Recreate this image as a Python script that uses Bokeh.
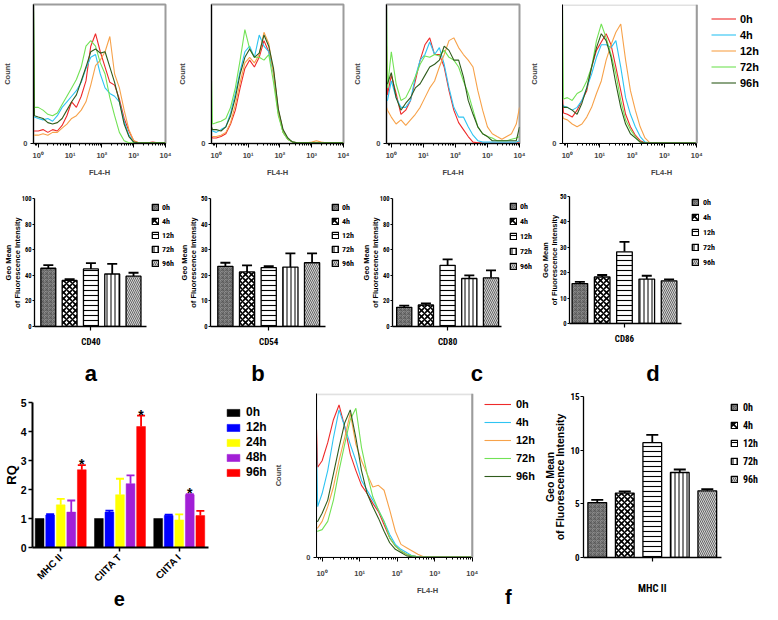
import math
from bokeh.plotting import figure
from bokeh.models import (Legend, LegendItem, FixedTicker, Whisker, TeeHead, LinearAxis, BoxAnnotation, Span,
                          ColumnDataSource, Range1d)
from bokeh.layouts import row, column
from bokeh.transform import dodge
from bokeh.core.properties import value
from bokeh.embed import file_html
from bokeh.resources import INLINE

# ------------------------------------------------------------------ data
# flow-cytometry histograms: FL4-H channel positions and event counts (% of max)
FL4H = [0.71, 0.76, 1.0, 1.41, 2.0, 2.82, 3.98, 5.62, 7.94, 11.2, 15.8, 22.4, 31.6, 44.7,
        63.1, 89.1, 126, 178, 251, 355, 501, 708, 1000, 1413, 1995, 2818, 3981, 5623, 7943, 10000]
HIST_TIMES = ["0h", "4h", "12h", "72h", "96h"]

CD40_0H = [9, 9, 9, 10, 8, 10, 9, 13, 20, 30, 26, 34, 45, 70, 79, 66, 55, 44, 42, 32, 18, 9, 2, 0.5, 0.5, 0.5, 1, 0.5, 0.5, 0.5]
CD40_4H = [19, 19, 18, 17, 18, 16, 20, 26, 30, 34, 38, 44, 54, 62, 64, 50, 40, 36, 34, 30, 16, 6, 1, 0.5, 0.5, 0.5, 0.5, 0.5, 0.5, 0.5]
CD40_12H = [6, 6, 6, 7, 6, 8, 8, 11, 14, 18, 20, 24, 30, 42, 56, 60, 66, 77, 50, 40, 24, 10, 2, 0.5, 0.5, 0.5, 0.5, 0.5, 0.5, 0.5]
CD40_72H = [95, 26, 26, 24, 21, 20, 22, 28, 34, 40, 46, 55, 70, 74, 70, 58, 50, 33, 20, 8, 2, 0.5, 0.5, 0.5, 0.5, 0.5, 0.5, 0.5, 0.5, 0.5]
CD40_96H = [100, 20, 19, 18, 15, 14, 15, 18, 24, 30, 35, 45, 55, 66, 68, 65, 66, 55, 44, 30, 14, 5, 1, 0.5, 0.5, 0.5, 0.5, 0.5, 0.5, 0.5]

CD54_0H = [5, 4, 4, 5, 7, 14, 24, 40, 54, 60, 55, 62, 74, 66, 52, 24, 9, 3, 1, 0.5, 0.5, 0.5, 0.5, 0.5, 0.5, 0.5, 0.5, 0.5, 0.5, 0.5]
CD54_4H = [10, 9, 8, 10, 12, 22, 36, 52, 66, 70, 62, 78, 70, 66, 50, 22, 8, 3, 1, 0.5, 0.5, 0.5, 0.5, 0.5, 0.5, 0.5, 0.5, 0.5, 0.5, 0.5]
CD54_12H = [5, 5, 5, 6, 8, 15, 28, 44, 58, 62, 58, 64, 80, 72, 50, 22, 8, 3, 1, 0.5, 0.5, 0.5, 1, 2, 1, 0.5, 0.5, 0.5, 0.5, 0.5]
CD54_72H = [45, 14, 15, 16, 18, 26, 40, 60, 82, 68, 62, 62, 60, 64, 44, 20, 8, 3, 1, 0.5, 0.5, 0.5, 0.5, 0.5, 0.5, 0.5, 0.5, 0.5, 0.5, 0.5]
CD54_96H = [12, 10, 10, 9, 12, 20, 33, 50, 62, 68, 62, 65, 78, 70, 54, 25, 10, 4, 1, 0.5, 0.5, 0.5, 0.5, 0.5, 0.5, 0.5, 0.5, 0.5, 0.5, 0.5]

CD80_0H = [70, 35, 49, 36, 21, 24, 31, 45, 60, 71, 76, 64, 64, 55, 38, 24, 15, 10, 5, 1, 0.5, 0.5, 0.5, 0.5, 0.5, 0.5, 0.5, 0.5, 0.5, 0.5]
CD80_4H = [31, 31, 45, 33, 26, 26, 31, 48, 60, 64, 73, 64, 69, 57, 40, 26, 19, 19, 12, 6, 2, 1, 1, 1, 1, 1, 1, 1, 1, 2]
CD80_12H = [26, 24, 19, 14, 17, 13, 17, 21, 26, 33, 40, 45, 55, 64, 74, 76, 69, 64, 60, 55, 38, 24, 12, 7, 5, 3, 5, 7, 14, 26]
CD80_72H = [98, 40, 66, 43, 31, 33, 40, 48, 57, 63, 62, 64, 63, 67, 62, 60, 55, 45, 36, 24, 12, 7, 5, 4, 2, 2, 2, 3, 4, 5]
CD80_96H = [43, 43, 51, 33, 24, 29, 33, 40, 43, 49, 55, 57, 60, 70, 67, 60, 60, 48, 31, 21, 12, 7, 5, 2, 2, 2, 2, 2, 2, 12]

CD86_0H = [36, 22, 21, 19, 24, 31, 38, 55, 67, 73, 79, 71, 55, 38, 21, 12, 6, 2, 0.5, 0.5, 0.5, 0.5, 0.5, 0.5, 0.5, 0.5, 0.5, 0.5, 0.5, 0.5]
CD86_4H = [28, 27, 26, 24, 26, 31, 40, 50, 62, 71, 71, 69, 74, 55, 33, 21, 12, 5, 1, 0.5, 0.5, 0.5, 0.5, 0.5, 0.5, 0.5, 0.5, 0.5, 0.5, 0.5]
CD86_12H = [20, 18, 17, 14, 12, 14, 19, 26, 36, 45, 60, 71, 80, 86, 60, 38, 24, 12, 4, 0.5, 0.5, 0.5, 0.5, 0.5, 0.5, 0.5, 0.5, 0.5, 0.5, 0.5]
CD86_72H = [96, 32, 33, 31, 36, 38, 45, 55, 74, 86, 76, 64, 50, 31, 17, 10, 5, 1, 0.5, 0.5, 0.5, 0.5, 0.5, 0.5, 0.5, 0.5, 0.5, 0.5, 0.5, 0.5]
CD86_96H = [28, 26, 26, 24, 21, 29, 40, 55, 69, 79, 74, 62, 43, 26, 14, 7, 4, 1, 0.5, 0.5, 0.5, 0.5, 0.5, 0.5, 0.5, 0.5, 0.5, 0.5, 0.5, 0.5]

MHC_0H = [78, 55, 59, 70, 84, 93, 80, 63, 53, 44, 39, 33, 28, 20, 12, 7, 4, 2, 1, 0.4, 0.3, 0.3, 0.3, 0.3, 0.3, 0.3, 0.3, 0.3, 0.3, 0.3]
MHC_4H = [69, 31, 39, 53, 73, 90, 80, 69, 59, 47, 41, 35, 29, 22, 14, 8, 5, 3, 1, 0.4, 0.3, 0.3, 0.3, 0.3, 0.3, 0.3, 0.3, 0.3, 0.3, 0.3]
MHC_12H = [18, 18, 22, 31, 43, 59, 73, 88, 69, 59, 51, 43, 44, 41, 29, 16, 8, 6, 4, 2, 0.5, 0.3, 0.3, 0.3, 0.3, 0.3, 0.3, 0.3, 0.3, 0.3]
MHC_72H = [16, 16, 17, 22, 35, 53, 69, 84, 91, 67, 51, 37, 29, 22, 12, 7, 4, 2, 1, 0.4, 0.3, 0.3, 0.3, 0.3, 0.3, 0.3, 0.3, 0.3, 0.3, 0.3]
MHC_96H = [22, 22, 27, 35, 51, 67, 82, 90, 73, 53, 39, 31, 24, 16, 9, 5, 3, 1, 0.4, 0.3, 0.3, 0.3, 0.3, 0.3, 0.3, 0.3, 0.3, 0.3, 0.3, 0.3]

# geo-mean bar charts
BAR_TIMES = ["0h", "4h", "12h", "72h", "96h"]
BAR_POS = [1, 2, 3, 4, 5]
CD40_MEAN = [45.5, 36, 45, 41, 39.3]
CD40_UPPER = [48, 37, 49.5, 49, 42]
CD54_MEAN = [23.5, 21.3, 23, 23.2, 24.9]
CD54_UPPER = [24.9, 23.9, 23.6, 28.6, 28.6]
CD80_MEAN = [15, 16.8, 47.8, 37.5, 38]
CD80_UPPER = [16.3, 18.1, 52.5, 40, 43.9]
CD86_MEAN = [15.7, 18.3, 28.2, 17.5, 16.8]
CD86_UPPER = [16.4, 19.1, 32.1, 18.8, 17.4]
MHC_MEAN = [5.12, 6.0, 10.7, 7.92, 6.21]
MHC_UPPER = [5.37, 6.15, 11.43, 8.2, 6.37]

# RQ (qPCR) chart
RQ_GENES = ["MHC II", "CIITA T", "CIITA I"]
RQ_POS = [1, 2, 3]
RQ_TIMES = ["0h", "12h", "24h", "48h", "96h"]
RQ_0H = [1.0, 1.0, 1.0]
RQ_12H = [1.12, 1.22, 1.1]
RQ_12H_UP = [1.15, 1.27, 1.13]
RQ_24H = [1.47, 1.82, 0.95]
RQ_24H_UP = [1.68, 2.37, 1.14]
RQ_48H = [1.22, 2.2, 1.82]
RQ_48H_UP = [1.62, 2.49, 1.84]
RQ_96H = [2.68, 4.17, 1.1]
RQ_96H_UP = [2.84, 4.55, 1.26]
RQ_STAR_48H = ["CIITA I"]
RQ_STAR_96H = ["MHC II", "CIITA T"]

# ------------------------------------------------------------------ style
SANS = "Liberation Sans"
NARROW = "Liberation Sans Narrow, Roboto Condensed, Liberation Sans"
HIST_COLORS = ["#ee2a2a", "#2ec4f2", "#f7a24a", "#72e255", "#2f5c1c"]
RQ_COLORS = ["#000000", "#0000ff", "#ffff00", "#a21fd6", "#ff0000"]
FILLS = ["#8e8e8e", "white", "white", "white", "#d4d4d4"]
HATCH = ["criss_cross", "diagonal_cross", "horizontal_line", "vertical_line", "left_diagonal_line"]
HCOL = ["#555555", "black", "black", "black", "#4a4a4a"]
HSCALE = [4, 6, 5, 4, 4]
HWEIGHT = [0.7, 1.6, 1.1, 1.0, 0.8]
BORDER = "#9c9c9c"


def base_fig(w, h, bl, br, bt, bb, xr, yr, **kw):
    p = figure(width=w, height=h, x_range=xr, y_range=yr,
               min_border_left=bl, min_border_right=br, min_border_top=bt, min_border_bottom=bb,
               output_backend="svg", toolbar_location=None, frame_align=False, **kw)
    p.grid.visible = False
    p.background_fill_color = "white"
    p.border_fill_color = "white"
    return p


def letter_axis(p, x, txt, standoff, size="22px"):
    ax = LinearAxis(ticker=FixedTicker(ticks=[x]), major_label_overrides={x: txt},
                    axis_line_color=None, major_tick_line_color=None, minor_tick_line_color=None,
                    major_tick_out=0, minor_tick_out=0, major_tick_in=0, minor_tick_in=0,
                    major_label_text_font=SANS, major_label_text_font_style="bold",
                    major_label_text_font_size=size, major_label_standoff=standoff,
                    major_label_text_color="black", axis_label_standoff=0)
    p.add_layout(ax, "below")


def hist_chart(w, h, bl, br, bt, bb, series, count_so, tick_so, lab_so, x_end=10000, leg=None):
    p = base_fig(w, h, bl, br, bt, bb, Range1d(0.708, x_end), Range1d(0, 100), x_axis_type="log")
    xa = p.below[0]
    ya = p.left[0]
    rs = [p.line(FL4H, ys, line_color=c, line_width=1.1) for ys, c in zip(series, HIST_COLORS)]
    if x_end > 10000:
        p.outline_line_color = None
        p.add_layout(BoxAnnotation(left=0.708, right=10000, bottom=0, top=99.6, fill_alpha=0,
                                   line_color=BORDER, line_width=2, level="glyph"))
        p.add_layout(Span(location=10000, dimension="height", line_color=BORDER, line_width=2))
    else:
        p.outline_line_color = BORDER
        p.outline_line_width = 2
    xa.bounds = (0.708, 10000)
    xa.major_label_overrides = {1: "10⁰", 10: "10¹", 100: "10²", 1000: "10³", 10000: "10⁴"}
    xa.major_label_text_font = SANS
    xa.major_label_text_font_style = "bold"
    xa.major_label_text_font_size = "7.5px"
    xa.major_label_standoff = tick_so
    xa.major_tick_out = 4
    xa.major_tick_in = 0
    xa.minor_tick_out = 2
    xa.minor_tick_in = 0
    xa.axis_label = "FL4-H"
    xa.axis_label_text_font = SANS
    xa.axis_label_text_font_style = "bold"
    xa.axis_label_text_font_size = "7.5px"
    xa.axis_label_standoff = lab_so
    ya.ticker = FixedTicker(ticks=[0])
    ya.major_label_text_font = SANS
    ya.major_label_text_font_style = "bold"
    ya.major_label_text_font_size = "7.5px"
    ya.major_tick_out = 3
    ya.major_tick_in = 0
    ya.minor_tick_out = 0
    ya.minor_tick_in = 0
    ya.major_label_standoff = 3
    ya.axis_label = "Count"
    ya.axis_label_text_font = SANS
    ya.axis_label_text_font_style = "bold"
    ya.axis_label_text_font_size = "7.5px"
    ya.axis_label_standoff = count_so
    if leg is not None:
        loc, gw, gh, sp, fs, so = leg
        items = [LegendItem(label=t, renderers=[r]) for t, r in zip(HIST_TIMES, rs)]
        p.add_layout(Legend(items=items, location=loc, glyph_width=gw, glyph_height=gh, label_height=gh,
                            label_width=10, spacing=sp, padding=0, margin=0, label_standoff=so,
                            border_line_color=None, background_fill_alpha=0, label_text_color="black",
                            label_text_font=SANS, label_text_font_style="bold", label_text_font_size=fs))
    return p


def bar_chart(w, h, bl, br, bt, bb, x0, x1, ax_end, means, uppers, ymax, ystep, cat, ylab_so,
              leg_loc, tick_fs="6.5px", ylab_fs="7.5px", ylab_lh=1.0, cat_fs="9px", cat_so=6,
              leg_fs="8px", leg_h=12, leg_sp=2, leg_g=8, leg_so=4, cap=10, barw=0.7, tick_out=2):
    p = base_fig(w, h, bl, br, bt, bb, Range1d(x0, x1), Range1d(0, ymax))
    p.outline_line_color = None
    src = ColumnDataSource(dict(x=BAR_POS, top=means, up=uppers, fill=FILLS, hatch=HATCH,
                                hc=HCOL, hs=HSCALE, hw=HWEIGHT))
    r = p.vbar(x="x", top="top", width=barw, source=src, fill_color="fill", line_color="black",
               line_width=1.3, hatch_pattern="hatch", hatch_color="hc", hatch_scale="hs",
               hatch_weight="hw")
    p.add_layout(Whisker(source=src, base="x", lower="top", upper="up", dimension="height",
                         line_color="black", line_width=1.8, lower_head=None,
                         upper_head=TeeHead(size=cap, line_width=1.8, line_color="black")))
    ya = p.left[0]
    ya.ticker = FixedTicker(ticks=list(range(0, ymax + 1, ystep)))
    ya.major_label_text_font = NARROW
    ya.major_label_text_font_style = "bold"
    ya.major_label_text_font_size = tick_fs
    ya.major_label_text_color = "black"
    ya.major_tick_out = tick_out
    ya.major_tick_in = 0
    ya.minor_tick_out = 0
    ya.minor_tick_in = 0
    ya.major_label_standoff = 1
    ya.axis_line_width = 1.3
    ya.major_tick_line_width = 1.2
    ya.axis_label = "Geo Mean\nof Fluorescence Intensity"
    ya.axis_label_text_font = SANS
    ya.axis_label_text_font_style = "bold"
    ya.axis_label_text_font_size = ylab_fs
    ya.axis_label_text_line_height = ylab_lh
    ya.axis_label_text_color = "black"
    ya.axis_label_standoff = ylab_so
    xa = p.below[0]
    xa.bounds = (x0, ax_end)
    xa.ticker = FixedTicker(ticks=[3])
    xa.major_label_overrides = {3: cat}
    xa.major_label_text_font = NARROW
    xa.major_label_text_font_style = "bold"
    xa.major_label_text_font_size = cat_fs
    xa.major_label_text_color = "black"
    xa.major_label_standoff = cat_so
    xa.axis_label_standoff = 0
    xa.major_tick_out = 4
    xa.major_tick_in = 0
    xa.minor_tick_out = 0
    xa.minor_tick_in = 0
    xa.axis_line_width = 1.3
    xa.major_tick_line_width = 1.2
    items = [LegendItem(label=t, renderers=[r], index=i) for i, t in enumerate(BAR_TIMES)]
    p.add_layout(Legend(items=items, location=leg_loc, glyph_width=leg_g, glyph_height=leg_g,
                        label_height=leg_h, label_width=10, spacing=leg_sp, padding=0, margin=0,
                        label_standoff=leg_so, border_line_color=None, background_fill_alpha=0,
                        label_text_color="black", label_text_font=NARROW, label_text_font_style="bold",
                        label_text_font_size=leg_fs))
    return p


# ------------------------------------------------------------------ row 1: histograms
h1 = hist_chart(175, 187, 27, 10, 4, 44, [CD40_0H, CD40_4H, CD40_12H, CD40_72H, CD40_96H], 8, 3, 5)
h2 = hist_chart(175, 187, 30, 7, 4, 44, [CD54_0H, CD54_4H, CD54_12H, CD54_72H, CD54_96H], 11, 3, 5)
h3 = hist_chart(177, 187, 30, 8, 4, 44, [CD80_0H, CD80_4H, CD80_12H, CD80_72H, CD80_96H], 11, 3, 5)
h4 = hist_chart(235, 187, 31, 2, 4, 44, [CD86_0H, CD86_4H, CD86_12H, CD86_72H, CD86_96H], 10, 3, 5,
                x_end=931000, leg=((149, 54), 25, 13, 3, "11px", 4))

# ------------------------------------------------------------------ row 2: geo mean bars
ba = bar_chart(176, 201, 28, 0, 11, 61, 0.351, 7.018, 5.62, CD40_MEAN, CD40_UPPER, 100, 20, "CD40", -3, (117, 57),
               leg_so=3)
letter_axis(ba, 3, "a", 11)
bb = bar_chart(182, 201, 27, 1, 11, 61, 0.313, 7.097, 5.643, CD54_MEAN, CD54_UPPER, 50, 10, "CD54", 0, (121, 57),
               leg_so=3)
letter_axis(bb, 2.498, "b", 11)
bc = bar_chart(179, 201, 28, 1, 11, 61, 0.46, 7.097, 5.504, CD80_MEAN, CD80_UPPER, 100, 20, "CD80", -3, (117, 54),
               leg_sp=3, leg_so=3)
letter_axis(bc, 4.345, "c", 11)
bd = bar_chart(225, 201, 26, 1, 9, 64, 0.535, 9.144, 5.535, CD86_MEAN, CD86_UPPER, 50, 10, "CD86", -2, (122, 55),
               leg_sp=3)
letter_axis(bd, 4.274, "d", 14)

# ------------------------------------------------------------------ row 3, e: RQ chart
pe = base_fig(271, 224, 27, 1, 14, 65, Range1d(0.524, 4.54), Range1d(0, 5))
pe.outline_line_color = None
rq_sets = [(RQ_0H, None), (RQ_12H, RQ_12H_UP), (RQ_24H, RQ_24H_UP), (RQ_48H, RQ_48H_UP), (RQ_96H, RQ_96H_UP)]
offs = [-0.356, -0.178, 0.0, 0.178, 0.356]
rq_rs = []
for (vals, ups), c, off in zip(rq_sets, RQ_COLORS, offs):
    src = ColumnDataSource(dict(pos=RQ_POS, top=vals, up=ups if ups else vals))
    rr = pe.vbar(x=dodge("pos", off, range=pe.x_range), top="top", width=0.148, source=src,
                 fill_color=c, line_color=c, line_width=0.5)
    rq_rs.append(rr)
    if ups:
        pe.add_layout(Whisker(source=src, base=dodge("pos", off, range=pe.x_range), lower="top", upper="up",
                              dimension="height", line_color=c, line_width=1.8, lower_head=None,
                              upper_head=TeeHead(size=8, line_width=1.8, line_color=c)))
for genes, ups_arr, off in [(RQ_STAR_96H, RQ_96H_UP, 0.356), (RQ_STAR_48H, RQ_48H_UP, 0.178)]:
    idx = [RQ_GENES.index(g) for g in genes]
    star_src = ColumnDataSource(dict(pos=[RQ_POS[i] for i in idx], y=[ups_arr[i] for i in idx]))
    pe.text(x=dodge("pos", off, range=pe.x_range), y="y", source=star_src,
            text=value("*"), text_font=value(SANS), text_font_size="14px", text_font_style="bold",
            text_align="center", text_baseline="alphabetic", y_offset=-1, text_color="black")
ya = pe.left[0]
ya.ticker = FixedTicker(ticks=[0, 1, 2, 3, 4, 5])
ya.major_label_text_font = SANS
ya.major_label_text_font_style = "bold"
ya.major_label_text_font_size = "10.5px"
ya.major_label_text_color = "black"
ya.major_tick_out = 4
ya.major_tick_in = 0
ya.minor_tick_out = 0
ya.minor_tick_in = 0
ya.major_label_standoff = 2
ya.axis_line_width = 2
ya.major_tick_line_width = 1.5
ya.axis_label = "RQ"
ya.axis_label_text_font = SANS
ya.axis_label_text_font_style = "bold"
ya.axis_label_text_font_size = "13px"
ya.axis_label_text_color = "black"
ya.axis_label_standoff = -1
xa = pe.below[0]
xa.bounds = (0.524, 3.493)
xa.ticker = FixedTicker(ticks=RQ_POS)
xa.major_label_overrides = dict(zip(RQ_POS, RQ_GENES))
xa.major_label_orientation = math.pi / 4
xa.major_label_text_font = SANS
xa.major_label_text_font_style = "bold"
xa.major_label_text_font_size = "10px"
xa.major_label_text_color = "black"
xa.major_tick_out = 4
xa.major_tick_in = 0
xa.minor_tick_out = 0
xa.minor_tick_in = 0
xa.major_label_standoff = 4
xa.axis_label_standoff = 0
xa.axis_line_width = 2
xa.major_tick_line_width = 1.5
pe.add_layout(Legend(items=[LegendItem(label=t, renderers=[r]) for t, r in zip(RQ_TIMES, rq_rs)],
                     location=(193, 68), glyph_width=16, glyph_height=9, label_height=13, label_width=10,
                     spacing=1, padding=0, margin=0, label_standoff=5, border_line_color=None,
                     background_fill_alpha=0, label_text_color="black", label_text_font=SANS,
                     label_text_font_style="bold", label_text_font_size="12px"))
letter_axis(pe, 1.987, "e", 1, "20px")

# ------------------------------------------------------------------ row 3, f: histogram + bars
hf = hist_chart(269, 224, 39, 2, 5, 55, [MHC_0H, MHC_4H, MHC_12H, MHC_72H, MHC_96H], 20, 7, 5,
                x_end=581000, leg=((168, 74), 27, 14, 4, "11px", 5))
letter_axis(hf, 91200, "f", -12, "20px")

bg = bar_chart(222, 224, 36, 1, 8, 55, 0.5, 6.97, 5.52, MHC_MEAN, MHC_UPPER, 15, 5, "MHC II", 1, (147, 71),
               tick_fs="9px", ylab_fs="10.5px", ylab_lh=0.9, cat_fs="10.5px", cat_so=20,
               leg_fs="10px", leg_h=14, leg_sp=4, leg_g=8, leg_so=5, cap=12, barw=0.68, tick_out=3)

layout = column(row(h1, h2, h3, h4), row(ba, bb, bc, bd), row(pe, hf, bg))

with open("out.html", "w") as f:
    f.write(file_html(layout, INLINE))
